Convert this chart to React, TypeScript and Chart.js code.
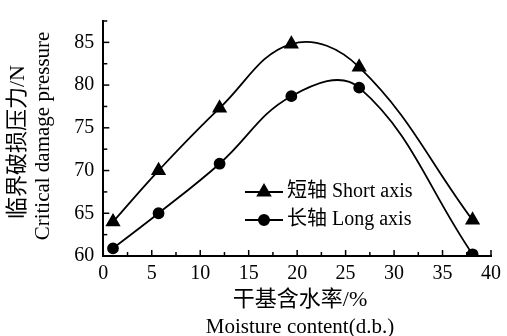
import React, { useEffect, useRef } from 'react';
import { Chart, registerables } from 'chart.js';
import { drawPoint } from 'chart.js/helpers';

Chart.register(...registerables);

// ---- data ----
const moisture = [1, 5.7, 12, 19.4, 26.4, 38.1];
const shortAxis = [64.0, 70.0, 77.3, 84.8, 82.1, 64.2];
const longAxis = [60.9, 65.0, 70.8, 78.7, 79.7, 60.2];
const seriesNames = ['短轴 Short axis', '长轴 Long axis'];
const seriesMarkers = ['triangle', 'circle'];
const xTitle = ['干基含水率/%', 'Moisture content(d.b.)'];
const yTitle = ['临界破损压力/N', 'Critical damage pressure'];
const xRange = [0, 40];
const yRange = [60, 87.5];
const tickStep = 2.5;
const labelStep = 5;

const FONT = "'Liberation Serif', 'Noto Sans CJK SC', serif";

const decor = {
  id: 'decor',
  beforeDatasetsDraw(chart: any) {
    const { ctx, chartArea, scales } = chart;
    const xs = scales.x;
    const ys = scales.y;
    ctx.save();
    ctx.strokeStyle = '#000';
    ctx.lineWidth = 1.5;
    xs.ticks.forEach((t: any) => {
      const px = xs.getPixelForValue(t.value);
      const major = Math.abs(t.value % labelStep) < 1e-6;
      ctx.beginPath();
      ctx.moveTo(px, chartArea.bottom);
      ctx.lineTo(px, chartArea.bottom - (major ? 6 : 4));
      ctx.stroke();
    });
    ys.ticks.forEach((t: any) => {
      const py = ys.getPixelForValue(t.value);
      const major = Math.abs(t.value % labelStep) < 1e-6;
      ctx.beginPath();
      ctx.moveTo(chartArea.left, py);
      ctx.lineTo(chartArea.left + (major ? 6 : 4), py);
      ctx.stroke();
    });
    ctx.restore();
  },
  afterDraw(chart: any) {
    const { ctx } = chart;
    ctx.save();
    ctx.fillStyle = '#000';
    ctx.textBaseline = 'middle';
    // x title
    ctx.textAlign = 'center';
    ctx.font = `22px ${FONT}`;
    ctx.fillText(xTitle[0], 300, 300);
    ctx.font = `21px ${FONT}`;
    ctx.fillText(xTitle[1], 300, 327);
    // y title
    ctx.save();
    ctx.translate(18, 142);
    ctx.rotate(-Math.PI / 2);
    ctx.font = `22px ${FONT}`;
    ctx.fillText(yTitle[0], 0, 0);
    ctx.restore();
    ctx.save();
    ctx.translate(43, 136);
    ctx.rotate(-Math.PI / 2);
    ctx.font = `21px ${FONT}`;
    ctx.fillText(yTitle[1], 0, 0);
    ctx.restore();
    // legend
    const rows = [192, 220];
    chart.data.datasets.forEach((ds: any, i: number) => {
      const y = rows[i];
      ctx.strokeStyle = '#000';
      ctx.lineWidth = 2;
      ctx.beginPath();
      ctx.moveTo(245, y);
      ctx.lineTo(283, y);
      ctx.stroke();
      ctx.fillStyle = '#000';
      drawPoint(ctx, { pointStyle: ds.pointStyle, radius: ds.pointRadius, rotation: 0, borderWidth: 1 }, 264, y);
      ctx.fillStyle = '#000';
      ctx.textAlign = 'left';
      ctx.font = `20px ${FONT}`;
      ctx.fillText(ds.label, 287, y);
    });
    ctx.restore();
  },
};

export default function App() {
  const ref = useRef<HTMLCanvasElement | null>(null);
  useEffect(() => {
    if (!ref.current) return;
    const mk = (vals: number[]) => moisture.map((x, i) => ({ x, y: vals[i] }));
    const chart = new Chart(ref.current, {
      type: 'line',
      data: {
        datasets: [
          {
            label: seriesNames[0],
            data: mk(shortAxis),
            borderColor: '#000',
            backgroundColor: '#000',
            borderWidth: 1.8,
            pointStyle: seriesMarkers[0] as any,
            pointRadius: 7,
            pointBackgroundColor: '#000',
            pointBorderColor: '#000',
            tension: 0.4,
            fill: false,
          },
          {
            label: seriesNames[1],
            data: mk(longAxis),
            borderColor: '#000',
            backgroundColor: '#000',
            borderWidth: 1.8,
            pointStyle: seriesMarkers[1] as any,
            pointRadius: 5,
            pointBackgroundColor: '#000',
            pointBorderColor: '#000',
            tension: 0.4,
            fill: false,
          },
        ],
      },
      options: {
        responsive: false,
        animation: false,
        devicePixelRatio: 1,
        layout: { padding: { left: 0, right: 10.5, top: 11, bottom: 0 } },
        plugins: { legend: { display: false }, tooltip: { enabled: false } },
        scales: {
          x: {
            type: 'linear',
            min: xRange[0],
            max: xRange[1],
            grid: { display: false, drawTicks: false },
            border: { display: true, color: '#000', width: 2 },
            afterFit: (s: any) => { s.height = 80; },
            ticks: {
              stepSize: tickStep,
              autoSkip: false,
              maxRotation: 0,
              padding: 6,
              color: '#000',
              font: { family: FONT, size: 20 },
              callback: (v: any) => (Math.abs(Number(v) % labelStep) < 1e-6 ? String(v) : ''),
            },
          },
          y: {
            type: 'linear',
            min: yRange[0],
            max: yRange[1],
            grid: { display: false, drawTicks: false },
            border: { display: true, color: '#000', width: 2 },
            afterFit: (s: any) => { s.width = 103.3; },
            ticks: {
              stepSize: tickStep,
              autoSkip: false,
              padding: 9,
              color: '#000',
              font: { family: FONT, size: 20 },
              callback: (v: any) => (Math.abs(Number(v) % labelStep) < 1e-6 ? String(v) : ''),
            },
          },
        },
      },
      plugins: [decor],
    });
    return () => chart.destroy();
  }, []);
  return (
    <canvas
      ref={ref}
      width={507}
      height={336}
      style={{ position: 'absolute', left: 0, top: 0, width: 507, height: 336, background: '#fff' }}
    />
  );
}
